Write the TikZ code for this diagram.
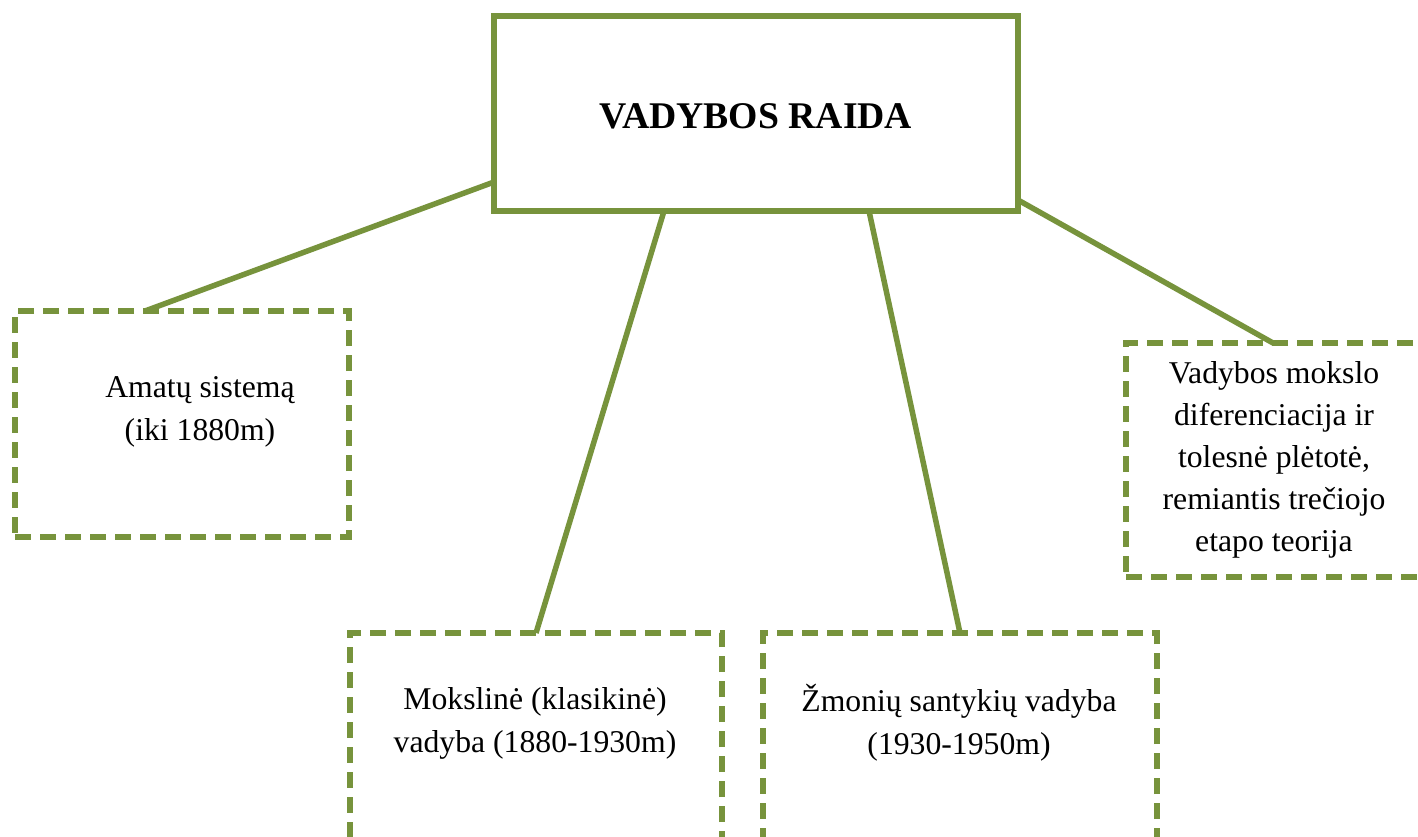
\documentclass[tikz,border=0pt]{standalone}
\usepackage{fontspec}
\setmainfont{Liberation Serif}
\usetikzlibrary{calc}
\definecolor{olive}{RGB}{119,147,60}
\tikzset{
  solidbox/.style={draw=olive, line width=5.5pt, rectangle, inner sep=0pt, outer sep=0pt, fill=white},
  dashbox/.style={draw=olive, line width=5.5pt, rectangle, inner sep=0pt, outer sep=0pt, dash pattern=on 16pt off 9pt},
  conn/.style={draw=olive, line width=5.5pt},
  label/.style={align=center, font=\fontsize{31.7}{43}\selectfont, inner sep=0pt},
}
\begin{document}
\begin{tikzpicture}[x=1pt, y=-1pt]
\clip (0,0) rectangle (1418,836);
\fill[white] (0,0) rectangle (1418,836);
% boxes
\node[dashbox, minimum width=334pt, minimum height=226pt] (left) at (182,424) {};
\node[dashbox, minimum width=372pt, minimum height=267pt] (mid1) at (536,766.5) {};
\node[dashbox, minimum width=394pt, minimum height=267pt] (mid2) at (960,766.5) {};
\node[dashbox, minimum width=314pt, minimum height=234pt] (right) at (1283,460) {};
% title
\node[solidbox, minimum width=524pt, minimum height=195pt] (title) at (756,113.5) {};
% connectors
\draw[conn] ($(left.north west)+(130,0)$) -- ($(title.south west)+(0,-29)$);
\draw[conn] (mid1.north) -- ($(title.south west)+(170,0)$);
\draw[conn] (mid2.north) -- ($(title.south west)+(375,0)$);
\draw[conn] ($(right.north west)+(147,0)$) -- ($(title.south east)+(0,-11)$);
\node[solidbox, minimum width=524pt, minimum height=195pt] at (title) {};
\node[font=\fontsize{37.7}{44}\selectfont\bfseries, inner sep=0pt] (ttext) at (756,116) {VADYBOS RAIDA};
% texts
\node[label] (ltext) at (200,412) {Amatų sistemą\\(iki 1880m)};
\node[label] (m1text) at (535,723) {Mokslinė (klasikinė)\\vadyba (1880-1930m)};
\node[label] (m2text) at (959,723) {Žmonių santykių vadyba\\(1930-1950m)};
\node[label, font=\fontsize{31.7}{42}\selectfont] (rtext) at (1274,460) {Vadybos mokslo\\diferenciacija ir\\tolesnė plėtotė,\\remiantis trečiojo\\etapo teorija};
\end{tikzpicture}
\end{document}
